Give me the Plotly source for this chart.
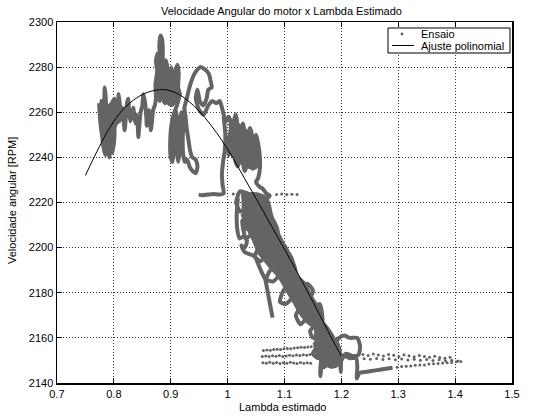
import plotly.graph_objects as go

# ---------------- data ----------------
title_text = "Velocidade Angular do motor x Lambda Estimado"
x_label = "Lambda estimado"
y_label = "Velocidade angular [RPM]"
legend_names = ["Ensaio", "Ajuste polinomial"]

x_ticks = [0.7, 0.8, 0.9, 1.0, 1.1, 1.2, 1.3, 1.4, 1.5]
x_ticktext = ["0.7", "0.8", "0.9", "1", "1.1", "1.2", "1.3", "1.4", "1.5"]
y_ticks = [2140, 2160, 2180, 2200, 2220, 2240, 2260, 2280, 2300]

# "Ensaio" measurement trajectory (lambda, rpm), traced as continuous runs
ensaio_run1 = [
    (0.774, 2264), (0.776, 2256), (0.779, 2250), (0.782, 2244), (0.785, 2241), (0.787, 2247),
    (0.783, 2253), (0.780, 2259), (0.778, 2265), (0.782, 2263), (0.784, 2271), (0.786, 2264),
    (0.785, 2257), (0.788, 2251), (0.790, 2245), (0.792, 2240), (0.794, 2245), (0.791, 2251),
    (0.789, 2257), (0.791, 2262), (0.794, 2258), (0.796, 2252), (0.798, 2247), (0.797, 2242),
    (0.800, 2246), (0.801, 2253), (0.798, 2259), (0.797, 2264), (0.801, 2266), (0.803, 2260),
    (0.805, 2255), (0.808, 2258), (0.808, 2268), (0.811, 2262), (0.810, 2256),
    (0.812, 2258), (0.815, 2262), (0.817, 2257), (0.819, 2252), (0.821, 2258), (0.823, 2264),
    (0.825, 2266), (0.827, 2260), (0.829, 2256), (0.832, 2259), (0.834, 2262), (0.836, 2258),
    (0.838, 2255), (0.840, 2259), (0.842, 2254), (0.843, 2249), (0.845, 2255), (0.847, 2260),
    (0.850, 2263), (0.852, 2268), (0.855, 2264), (0.857, 2258), (0.858, 2254), (0.861, 2257),
    (0.862, 2261), (0.864, 2257), (0.865, 2252), (0.867, 2256), (0.869, 2261), (0.872, 2263),
    (0.874, 2266), (0.873, 2272), (0.876, 2278), (0.874, 2283), (0.877, 2286), (0.880, 2281),
    (0.879, 2275), (0.878, 2268), (0.881, 2265), (0.883, 2271), (0.882, 2278), (0.881, 2285),
    (0.880, 2290), (0.882, 2294), (0.885, 2292), (0.886, 2286), (0.885, 2279), (0.886, 2273),
    (0.887, 2266), (0.890, 2264), (0.891, 2270), (0.890, 2277), (0.891, 2283), (0.894, 2280),
    (0.895, 2274), (0.894, 2268), (0.897, 2264), (0.899, 2269), (0.899, 2275), (0.901, 2280),
    (0.903, 2276), (0.903, 2270), (0.905, 2265), (0.908, 2268), (0.907, 2274), (0.909, 2279),
    (0.912, 2281), (0.914, 2277), (0.913, 2271), (0.916, 2268), (0.912, 2264), (0.908, 2261),
    (0.904, 2258),
    (0.901, 2254), (0.899, 2247), (0.900, 2240), (0.903, 2238), (0.905, 2244), (0.904, 2251),
    (0.906, 2257), (0.909, 2261), (0.911, 2255), (0.910, 2248), (0.911, 2242), (0.913, 2238),
    (0.916, 2243), (0.917, 2250), (0.916, 2256), (0.919, 2260), (0.922, 2255), (0.921, 2248),
    (0.922, 2241), (0.925, 2238), (0.929, 2239), (0.933, 2236), (0.938, 2234), (0.944, 2233),
    (0.947, 2236), (0.944, 2239), (0.938, 2240), (0.934, 2243), (0.931, 2248), (0.928, 2253),
    (0.926, 2258), (0.924, 2262), (0.927, 2265),
    (0.929, 2267), (0.934, 2272), (0.938, 2275), (0.944, 2278), (0.952, 2280), (0.960, 2279),
    (0.967, 2277), (0.970, 2274), (0.972, 2271), (0.966, 2270), (0.963, 2266), (0.957, 2263),
    (0.951, 2265), (0.947, 2270), (0.944, 2266), (0.950, 2261), (0.958, 2259), (0.966, 2263),
    (0.973, 2265), (0.980, 2264), (0.986, 2265), (0.990, 2262), (0.994, 2258),
    (0.998, 2256), (1.002, 2258), (1.006, 2255), (1.004, 2250), (1.000, 2246), (1.002, 2241),
    (1.006, 2244), (1.008, 2250), (1.011, 2256), (1.014, 2259), (1.017, 2255), (1.015, 2249),
    (1.012, 2244), (1.014, 2238), (1.018, 2236), (1.020, 2242), (1.022, 2248), (1.024, 2253),
    (1.027, 2255), (1.030, 2250), (1.028, 2244), (1.027, 2238), (1.030, 2234), (1.034, 2237),
    (1.035, 2243), (1.036, 2249), (1.039, 2253), (1.042, 2251), (1.043, 2245), (1.041, 2239),
    (1.044, 2235), (1.048, 2238), (1.049, 2244), (1.050, 2250), (1.053, 2247), (1.056, 2242),
    (1.057, 2236), (1.054, 2231), (1.050, 2229), (1.056, 2227), (1.062, 2226), (1.068, 2224),
    (1.074, 2223),
    (1.065, 2221), (1.050, 2222), (1.035, 2224), (1.022, 2225), (1.015, 2220), (1.022, 2216),
    (1.035, 2218), (1.048, 2219), (1.058, 2216), (1.050, 2212), (1.040, 2210), (1.030, 2208),
    (1.025, 2212), (1.032, 2204), (1.042, 2206), (1.055, 2208), (1.068, 2210), (1.080, 2212),
    (1.088, 2207), (1.078, 2203), (1.066, 2202), (1.055, 2200), (1.048, 2196), (1.058, 2194),
    (1.070, 2197), (1.082, 2200), (1.095, 2202), (1.104, 2199), (1.098, 2194), (1.086, 2192),
    (1.075, 2190), (1.068, 2186), (1.080, 2185), (1.092, 2188), (1.104, 2191), (1.115, 2193),
    (1.120, 2188), (1.110, 2184), (1.098, 2181), (1.092, 2176), (1.102, 2175), (1.115, 2178),
    (1.128, 2182), (1.140, 2184), (1.150, 2181), (1.142, 2176), (1.130, 2174), (1.120, 2170),
    (1.128, 2166), (1.140, 2169), (1.152, 2173), (1.162, 2175), (1.166, 2169), (1.155, 2166),
    (1.145, 2163),
    (1.150, 2160), (1.160, 2162), (1.170, 2165), (1.176, 2161), (1.168, 2157), (1.158, 2156),
    (1.150, 2153), (1.160, 2151), (1.172, 2153), (1.182, 2156), (1.190, 2158), (1.196, 2160),
    (1.205, 2161), (1.215, 2160), (1.228, 2160), (1.233, 2156), (1.230, 2152.5), (1.220, 2152),
    (1.208, 2153), (1.198, 2151), (1.188, 2150), (1.178, 2149), (1.170, 2147), (1.165, 2151),
    (1.163, 2146), (1.163, 2143), (1.166, 2148), (1.175, 2151), (1.185, 2154), (1.192, 2151),
    (1.198, 2148), (1.199, 2145), (1.200, 2150), (1.206, 2152), (1.215, 2151), (1.226, 2151),
    (1.228, 2147), (1.227, 2142), (1.232, 2144.5), (1.245, 2145), (1.260, 2145.6),
    (1.275, 2146.2), (1.290, 2146.8),
]
ensaio_run2 = [
    (0.993, 2258), (0.996, 2250), (0.995, 2243), (0.992, 2238), (0.990, 2233), (0.991, 2228),
    (0.993, 2224), (0.985, 2223.5), (0.975, 2223.8), (0.965, 2223.5), (0.955, 2223.2),
    (0.949, 2223.5),
]
ensaio_run3 = [
    (1.018, 2222), (1.016, 2215), (1.017, 2208), (1.021, 2204), (1.028, 2205), (1.034, 2203),
    (1.030, 2200), (1.024, 2201), (1.030, 2198), (1.040, 2197), (1.048, 2196), (1.055, 2192),
    (1.060, 2189), (1.066, 2186), (1.070, 2181), (1.073, 2177), (1.076, 2173), (1.079, 2169),
]

# regions where the "Ensaio" samples overlap into solid patches (outline lambda, rpm)
ensaio_patch_a = [(0.776, 2263), (0.782, 2265), (0.790, 2263), (0.797, 2264), (0.803, 2262),
                  (0.805, 2258), (0.801, 2252), (0.797, 2246), (0.794, 2242), (0.789, 2242),
                  (0.785, 2246), (0.781, 2251), (0.778, 2257)]
ensaio_patch_b = [(0.876, 2266), (0.875, 2273), (0.877, 2281), (0.880, 2285), (0.885, 2284),
                  (0.890, 2281), (0.896, 2279), (0.901, 2277), (0.906, 2274), (0.911, 2274),
                  (0.912, 2270), (0.908, 2265), (0.902, 2263), (0.894, 2264), (0.886, 2265)]
ensaio_patch_d = [(1.002, 2254), (1.012, 2256), (1.025, 2253), (1.038, 2251), (1.049, 2248),
                  (1.055, 2243), (1.054, 2237), (1.046, 2235), (1.034, 2236), (1.020, 2238),
                  (1.009, 2241), (1.003, 2247)]
ensaio_patch_e = [(1.024, 2223), (1.045, 2224), (1.068, 2222), (1.078, 2214), (1.090, 2206),
                  (1.102, 2200), (1.114, 2195), (1.121, 2188), (1.136, 2184), (1.148, 2178),
                  (1.158, 2174), (1.168, 2168), (1.160, 2165), (1.145, 2166), (1.130, 2170),
                  (1.116, 2176), (1.104, 2181), (1.090, 2187), (1.076, 2191), (1.063, 2195),
                  (1.054, 2198), (1.044, 2204), (1.034, 2209), (1.025, 2215)]
ensaio_patch_f = [(1.152, 2164), (1.165, 2167), (1.177, 2164), (1.187, 2160), (1.195, 2157),
                  (1.199, 2152), (1.194, 2148), (1.182, 2147), (1.169, 2149), (1.159, 2152),
                  (1.152, 2158)]

# sparse "Ensaio" samples (isolated dots)
dots_lambda = [
    1.063, 1.069, 1.075, 1.081, 1.087, 1.093, 1.099, 1.105, 1.111, 1.117, 1.123, 1.129, 1.135, 1.141, 1.147,
    1.061, 1.067, 1.073, 1.079, 1.085, 1.091, 1.097, 1.103, 1.109, 1.115, 1.121, 1.127, 1.133, 1.139, 1.145, 1.151,
    1.062, 1.068, 1.074, 1.080, 1.086, 1.092, 1.098, 1.104, 1.110, 1.116, 1.122, 1.128, 1.134, 1.140, 1.146,
    1.238, 1.247, 1.256, 1.265, 1.274, 1.283, 1.292, 1.301, 1.310, 1.319, 1.328, 1.337, 1.346, 1.355, 1.364, 1.373, 1.382, 1.391,
    1.240, 1.251, 1.262, 1.273, 1.284, 1.295, 1.306, 1.317, 1.328, 1.339, 1.350, 1.361, 1.372, 1.383, 1.394, 1.405,
    1.298, 1.306, 1.314, 1.322, 1.330, 1.338, 1.346, 1.354, 1.362, 1.370, 1.378, 1.386, 1.394, 1.402, 1.410,
    1.010, 1.018, 1.026, 1.034, 1.086, 1.095, 1.104, 1.113, 1.122,
]
dots_rpm = [
    2154.4, 2154.6, 2154.5, 2154.8, 2155.0, 2154.9, 2155.2, 2155.3, 2155.2, 2155.5, 2155.6, 2155.8, 2155.7, 2156.0, 2156.1,
    2151.8, 2152.0, 2151.7, 2152.1, 2151.9, 2152.2, 2151.8, 2152.0, 2152.3, 2152.1, 2152.4, 2152.2, 2152.5, 2152.3, 2152.6, 2152.4,
    2149.0, 2148.7, 2149.2, 2148.8, 2149.1, 2148.6, 2149.0, 2148.7, 2149.2, 2148.9, 2148.6, 2149.1, 2148.8, 2149.0, 2148.7,
    2152.6, 2152.2, 2152.8, 2152.4, 2152.0, 2152.6, 2152.3, 2151.8, 2152.5, 2152.1, 2151.6, 2152.2, 2151.8, 2151.4, 2151.9, 2151.3, 2151.0, 2151.4,
    2150.8, 2150.5, 2150.9, 2150.4, 2150.7, 2150.3, 2150.6, 2150.2, 2150.5, 2150.1, 2150.4, 2150.0, 2150.3, 2149.9, 2150.1, 2149.8,
    2147.0, 2147.3, 2147.4, 2147.5, 2147.9, 2148.0, 2148.0, 2148.4, 2148.5, 2148.6, 2148.9, 2149.0, 2149.1, 2149.4, 2149.5,
    2223.8, 2224.0, 2223.7, 2223.9, 2223.6, 2223.8, 2223.5, 2223.7, 2223.6,
]

# "Ajuste polinomial" curve
fit_lambda = [0.75, 0.77, 0.79, 0.81, 0.83, 0.85, 0.87, 0.89, 0.91, 0.93, 0.95, 0.97, 0.99,
              1.01, 1.03, 1.05, 1.07, 1.09, 1.11, 1.13, 1.15, 1.17, 1.19, 1.20]
fit_rpm = [2232, 2242.5, 2252, 2259.5, 2264.5, 2267.8, 2269.6, 2270, 2268.5, 2265.2, 2260.5,
           2254.5, 2247.5, 2239.5, 2230.5, 2221.8, 2212.8, 2203.8, 2194.8, 2185.5, 2176,
           2166.2, 2156.5, 2152]

# ---------------- figure ----------------
GRAY = "#646464"
FONT = "Liberation Sans, Arial, sans-serif"

fig = go.Figure()

for patch in (ensaio_patch_a, ensaio_patch_b, ensaio_patch_d, ensaio_patch_e, ensaio_patch_f):
    fig.add_trace(go.Scatter(x=[p[0] for p in patch], y=[p[1] for p in patch],
                             mode="lines", fill="toself", fillcolor=GRAY,
                             line=dict(color=GRAY, width=3, shape="spline", smoothing=1.0),
                             showlegend=False, hoverinfo="skip"))

wx, wy = [], []
for run in (ensaio_run1, ensaio_run2, ensaio_run3):
    for a, b in run:
        wx.append(a)
        wy.append(b)
    wx.append(None)
    wy.append(None)

fig.add_trace(go.Scatter(x=wx, y=wy, mode="lines",
                         line=dict(color=GRAY, width=4, shape="spline", smoothing=0.6),
                         name=legend_names[0], showlegend=False, hoverinfo="skip"))
fig.add_trace(go.Scatter(x=dots_lambda, y=dots_rpm, mode="markers",
                         marker=dict(color=GRAY, size=3), name=legend_names[0], showlegend=False,
                         hoverinfo="skip"))
fig.add_trace(go.Scatter(x=fit_lambda, y=fit_rpm, mode="lines",
                         line=dict(color="black", width=1, shape="spline"),
                         name=legend_names[1], showlegend=False, hoverinfo="skip"))

axis_common = dict(showline=True, linecolor="black", linewidth=1.5, mirror="ticks",
                   ticks="inside", ticklen=5, tickcolor="black", tickwidth=1,
                   showgrid=True, gridcolor="#333333", gridwidth=1, griddash="1px,2px",
                   zeroline=False, tickfont=dict(family=FONT, size=11, color="black"))

fig.update_layout(
    width=552, height=416,
    margin=dict(l=57, r=40, t=22, b=33),
    paper_bgcolor="white", plot_bgcolor="white",
    showlegend=False,
    hovermode=False,
    xaxis=dict(range=[0.7, 1.5], tickvals=x_ticks, ticktext=x_ticktext, **axis_common),
    yaxis=dict(range=[2140, 2300], tickvals=y_ticks, **axis_common),
    font=dict(family=FONT, size=11, color="black"),
)

def px2paper(px, py):
    return (px - 57) / 455.0, (383 - py) / 361.0

annotations = []
tx, ty = px2paper(281, 11)
annotations.append(dict(text=title_text, x=tx, y=ty, xref="paper", yref="paper",
                        showarrow=False, xanchor="center", yanchor="middle",
                        font=dict(family=FONT, size=11, color="black")))
tx, ty = px2paper(282, 407)
annotations.append(dict(text=x_label, x=tx, y=ty, xref="paper", yref="paper",
                        showarrow=False, xanchor="center", yanchor="middle",
                        font=dict(family=FONT, size=11, color="black")))
tx, ty = px2paper(12, 201)
annotations.append(dict(text=y_label, x=tx, y=ty, xref="paper", yref="paper",
                        showarrow=False, xanchor="center", yanchor="middle", textangle=-90,
                        font=dict(family=FONT, size=11, color="black")))

# manual legend (MATLAB style)
bx0, by0 = px2paper(388, 53)
bx1, by1 = px2paper(510, 28)
shapes = [dict(type="rect", xref="paper", yref="paper", x0=bx0, y0=by0, x1=bx1, y1=by1,
               line=dict(color="black", width=1), fillcolor="white", layer="above")]
dx, dy = px2paper(402, 34)
shapes.append(dict(type="circle", xref="paper", yref="paper",
                   x0=dx - 1.4 / 455, x1=dx + 1.4 / 455, y0=dy - 1.4 / 361, y1=dy + 1.4 / 361,
                   line=dict(color=GRAY, width=0), fillcolor=GRAY, layer="above"))
lx0, ly = px2paper(392, 45.5)
lx1, _ = px2paper(414, 45.5)
shapes.append(dict(type="line", xref="paper", yref="paper", x0=lx0, x1=lx1, y0=ly, y1=ly,
                   line=dict(color="black", width=1), layer="above"))
for name, py in zip(legend_names, (34, 45.5)):
    tx, ty = px2paper(419, py)
    annotations.append(dict(text=name, x=tx, y=ty, xref="paper", yref="paper",
                            showarrow=False, xanchor="left", yanchor="middle",
                            font=dict(family=FONT, size=11, color="black")))

fig.update_layout(annotations=annotations, shapes=shapes)
fig.write_html("out.html", config={"displayModeBar": False, "staticPlot": True},
               post_script="document.body.style.margin='0';document.body.style.overflow='hidden';")
